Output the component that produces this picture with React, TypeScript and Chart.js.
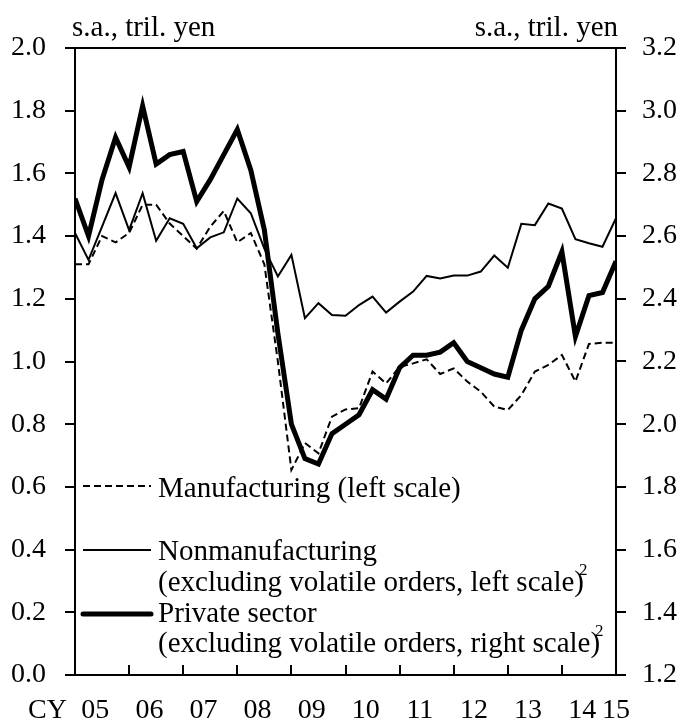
import React, { useEffect, useRef } from "react";
import { Chart, registerables } from "chart.js";

Chart.register(...registerables);

const quarters = [
  "2005Q1", "2005Q2", "2005Q3", "2005Q4",
  "2006Q1", "2006Q2", "2006Q3", "2006Q4",
  "2007Q1", "2007Q2", "2007Q3", "2007Q4",
  "2008Q1", "2008Q2", "2008Q3", "2008Q4",
  "2009Q1", "2009Q2", "2009Q3", "2009Q4",
  "2010Q1", "2010Q2", "2010Q3", "2010Q4",
  "2011Q1", "2011Q2", "2011Q3", "2011Q4",
  "2012Q1", "2012Q2", "2012Q3", "2012Q4",
  "2013Q1", "2013Q2", "2013Q3", "2013Q4",
  "2014Q1", "2014Q2", "2014Q3", "2014Q4",
  "2015Q1",
];

const yearLabels = ["05", "06", "07", "08", "09", "10", "11", "12", "13", "14", "15"];
const leftTickValues = [0, 0.2, 0.4, 0.6, 0.8, 1.0, 1.2, 1.4, 1.6, 1.8, 2.0];
const rightTickValues = [1.2, 1.4, 1.6, 1.8, 2.0, 2.2, 2.4, 2.6, 2.8, 3.0, 3.2];

// Manufacturing (left scale)
const manufacturing = [
  1.31, 1.31, 1.40, 1.38, 1.41, 1.50, 1.50, 1.44,
  1.40, 1.36, 1.43, 1.48, 1.38, 1.41, 1.31, 1.00,
  0.654, 0.74, 0.707, 0.824, 0.847, 0.851, 0.968, 0.93,
  0.983, 0.994, 1.007, 0.96, 0.978, 0.936, 0.904, 0.856,
  0.845, 0.893, 0.968, 0.989, 1.021, 0.936, 1.056, 1.06,
  1.06,
];

// Nonmanufacturing (excluding volatile orders, left scale)
const nonmanufacturing = [
  1.41, 1.324, 1.43, 1.537, 1.419, 1.537, 1.385, 1.457,
  1.439, 1.361, 1.396, 1.412, 1.52, 1.473, 1.36, 1.271,
  1.34, 1.138, 1.186, 1.148, 1.146, 1.18, 1.207, 1.156,
  1.191, 1.223, 1.273, 1.265, 1.274, 1.274, 1.287, 1.338,
  1.299, 1.439, 1.435, 1.504, 1.488, 1.39, 1.377, 1.366,
  1.457,
];

// Private sector (excluding volatile orders, right scale)
const privateSector = [
  2.72, 2.60, 2.78, 2.915, 2.82, 3.015, 2.83, 2.86,
  2.87, 2.71, 2.78, 2.86, 2.94, 2.81, 2.62, 2.29,
  2.00, 1.89, 1.873, 1.97, 2.00, 2.03, 2.11, 2.08,
  2.18, 2.22, 2.22, 2.23, 2.26, 2.20, 2.18, 2.16,
  2.15, 2.30, 2.40, 2.44, 2.55, 2.28, 2.41, 2.42,
  2.52,
];

const unitLabel = "s.a., tril. yen";
const axisPrefix = "CY";
const legendEntries = [
  { lines: ["Manufacturing (left scale)"], sup: "", kind: "dashed" },
  { lines: ["Nonmanufacturing", "(excluding volatile orders, left scale)"], sup: "2", kind: "thin" },
  { lines: ["Private sector", "(excluding volatile orders, right scale)"], sup: "2", kind: "thick" },
];

const FONT_FAMILY = '"Liberation Serif", "Times New Roman", serif';
const FONT_SIZE = 28;
const TEXT_SIZE = 29;
const X_PAD = 19;

// year label value = mean index of that year's quarters
const yearTickValues = yearLabels.map((y) => {
  const idx = quarters
    .map((q, i) => (q.startsWith("20" + y) ? i : -1))
    .filter((i) => i >= 0);
  return idx.reduce((a, b) => a + b, 0) / idx.length;
});
const yearBoundaryIdx = quarters
  .map((q, i) => (q.endsWith("Q1") ? i : -1))
  .filter((i) => i >= 0);

const toXY = (arr: number[]) => arr.map((v, i) => ({ x: i, y: v }));

const decorPlugin = {
  id: "decor",
  afterDraw(chart: any) {
    const { ctx, chartArea: ca, scales } = chart;
    const xs = scales.x;
    ctx.save();
    ctx.strokeStyle = "#000";
    ctx.fillStyle = "#000";
    ctx.lineWidth = 2;
    // top frame line
    ctx.beginPath();
    ctx.moveTo(ca.left, ca.top);
    ctx.lineTo(ca.right, ca.top);
    ctx.stroke();
    // inward tick marks at year boundaries
    ctx.beginPath();
    yearBoundaryIdx.forEach((i) => {
      const px = Math.round(xs.getPixelForValue(i));
      ctx.moveTo(px, ca.bottom);
      ctx.lineTo(px, ca.bottom - 10);
    });
    ctx.stroke();

    // unit labels
    ctx.font = `${TEXT_SIZE}px ${FONT_FAMILY}`;
    ctx.textBaseline = "alphabetic";
    ctx.textAlign = "left";
    ctx.fillText(unitLabel, ca.left - 3, ca.top - 12);
    ctx.textAlign = "right";
    ctx.fillText(unitLabel, ca.right + 2, ca.top - 12);

    // CY prefix, on the same line as the x tick labels
    ctx.font = `${FONT_SIZE}px ${FONT_FAMILY}`;
    ctx.textBaseline = "middle";
    ctx.textAlign = "right";
    ctx.fillText(axisPrefix, ca.left - 8, ca.bottom + X_PAD + (FONT_SIZE * 1.2) / 2);

    // legend
    ctx.textBaseline = "alphabetic";
    const sampleX0 = ca.left + 8;
    const sampleX1 = ca.left + 76;
    const textX = ca.left + 83;
    const baselines = [[497], [560, 591], [622, 652]];
    const sampleY = [486, 550, 614];
    legendEntries.forEach((e, k) => {
      ctx.save();
      ctx.beginPath();
      if (e.kind === "dashed") {
        ctx.setLineDash([7, 4]);
        ctx.lineWidth = 2;
      } else if (e.kind === "thin") {
        ctx.lineWidth = 2;
      } else {
        ctx.lineWidth = 5;
        ctx.lineCap = "round";
      }
      ctx.moveTo(sampleX0, sampleY[k]);
      ctx.lineTo(sampleX1, sampleY[k]);
      ctx.stroke();
      ctx.restore();
      ctx.textAlign = "left";
      ctx.font = `${TEXT_SIZE}px ${FONT_FAMILY}`;
      e.lines.forEach((line, j) => {
        ctx.fillText(line, textX, baselines[k][j]);
      });
      if (e.sup) {
        const last = e.lines[e.lines.length - 1];
        const w = ctx.measureText(last).width;
        ctx.font = `17px ${FONT_FAMILY}`;
        ctx.fillText(e.sup, textX + w - 5, baselines[k][e.lines.length - 1] - 16);
      }
    });
    ctx.restore();
  },
};

export default function App() {
  const ref = useRef<HTMLCanvasElement>(null);
  useEffect(() => {
    if (!ref.current) return;
    const font = { family: FONT_FAMILY, size: FONT_SIZE };
    const chart = new Chart(ref.current, {
      type: "line",
      data: {
        datasets: [
          {
            label: legendEntries[2].lines.join(" "),
            data: toXY(privateSector),
            yAxisID: "yR",
            borderColor: "#000",
            borderWidth: 5,
            pointRadius: 0,
            order: 0,
          },
          {
            label: legendEntries[1].lines.join(" "),
            data: toXY(nonmanufacturing),
            yAxisID: "yL",
            borderColor: "#000",
            borderWidth: 2,
            pointRadius: 0,
            order: 1,
          },
          {
            label: legendEntries[0].lines.join(" "),
            data: toXY(manufacturing),
            yAxisID: "yL",
            borderColor: "#000",
            borderWidth: 2,
            borderDash: [7, 4],
            pointRadius: 0,
            order: 2,
          },
        ],
      },
      options: {
        animation: false,
        responsive: false,
        layout: { padding: { top: 48, left: 0, right: 0, bottom: 0 } },
        plugins: { legend: { display: false }, tooltip: { enabled: false } },
        elements: { line: { tension: 0 }, point: { radius: 0 } },
        scales: {
          x: {
            type: "linear",
            position: "bottom",
            min: 0,
            max: quarters.length - 1,
            grid: { display: false, drawTicks: false },
            border: { display: true, width: 2, color: "#000" },
            ticks: {
              autoSkip: false,
              maxRotation: 0,
              padding: X_PAD,
              color: "#000",
              font,
              callback: (v: any) => {
                const i = yearTickValues.findIndex((t) => Math.abs(t - Number(v)) < 1e-6);
                return i >= 0 ? yearLabels[i] : "";
              },
            },
            afterBuildTicks: (s: any) => {
              s.ticks = yearTickValues.map((v) => ({ value: v }));
            },
            afterFit: (s: any) => {
              s.height = 47;
            },
          },
          yL: {
            type: "linear",
            position: "left",
            min: 0,
            max: 2,
            grid: { drawOnChartArea: false, tickLength: 10, lineWidth: 2, color: "#000" },
            border: { display: true, width: 2, color: "#000" },
            ticks: {
              padding: 19,
              color: "#000",
              font,
              callback: (v: any) => Number(v).toFixed(1),
            },
            afterBuildTicks: (s: any) => {
              s.ticks = leftTickValues.map((v) => ({ value: v }));
            },
            afterFit: (s: any) => {
              s.width = 75;
            },
          },
          yR: {
            type: "linear",
            position: "right",
            min: 1.2,
            max: 3.2,
            grid: { drawOnChartArea: false, tickLength: 10, lineWidth: 2, color: "#000" },
            border: { display: true, width: 2, color: "#000" },
            ticks: {
              padding: 16,
              color: "#000",
              font,
              callback: (v: any) => Number(v).toFixed(1),
            },
            afterBuildTicks: (s: any) => {
              s.ticks = rightTickValues.map((v) => ({ value: v }));
            },
            afterFit: (s: any) => {
              s.width = 67;
            },
          },
        },
      } as any,
      plugins: [decorPlugin],
    });
    return () => chart.destroy();
  }, []);
  return (
    <div style={{ position: "absolute", left: 0, top: 0, width: 683, height: 722 }}>
      <canvas ref={ref} width={683} height={722} style={{ display: "block", width: 683, height: 722 }} />
    </div>
  );
}
